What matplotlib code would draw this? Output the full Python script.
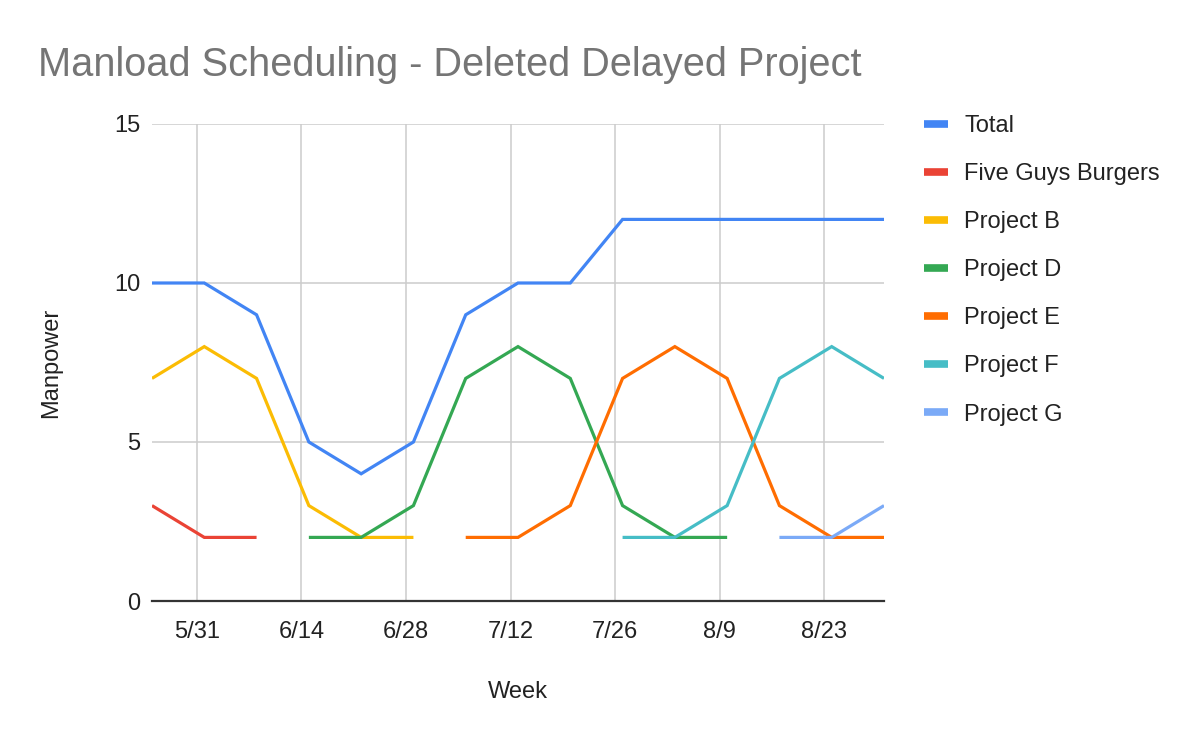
import numpy as np
import matplotlib
matplotlib.use("Agg")
import matplotlib.pyplot as plt
import matplotlib.dates as mdates
from matplotlib.lines import Line2D
import datetime as dt

plt.rcParams['font.family'] = ['Liberation Sans', 'DejaVu Sans']

weeks = ['2020-05-25', '2020-06-01', '2020-06-08', '2020-06-15', '2020-06-22',
         '2020-06-29', '2020-07-06', '2020-07-13', '2020-07-20', '2020-07-27',
         '2020-08-03', '2020-08-10', '2020-08-17', '2020-08-24', '2020-08-31']
nan = np.nan
total = [10, 10, 9, 5, 4, 5, 9, 10, 10, 12, 12, 12, 12, 12, 12]
five_guys = [3, 2, 2, nan, nan, nan, nan, nan, nan, nan, nan, nan, nan, nan, nan]
project_b = [7, 8, 7, 3, 2, 2, nan, nan, nan, nan, nan, nan, nan, nan, nan]
project_d = [nan, nan, nan, 2, 2, 3, 7, 8, 7, 3, 2, 2, nan, nan, nan]
project_e = [nan, nan, nan, nan, nan, nan, 2, 2, 3, 7, 8, 7, 3, 2, 2]
project_f = [nan, nan, nan, nan, nan, nan, nan, nan, nan, 2, 2, 3, 7, 8, 7]
project_g = [nan, nan, nan, nan, nan, nan, nan, nan, nan, nan, nan, nan, 2, 2, 3]

series_names = ['Total', 'Five Guys Burgers', 'Project B', 'Project D',
                'Project E', 'Project F', 'Project G']
series_values = [total, five_guys, project_b, project_d, project_e, project_f, project_g]
colors = ['#4285F4', '#EA4335', '#FBBC04', '#34A853', '#FF6D01', '#46BDC6', '#7BAAF7']

tick_dates = ['2020-05-31', '2020-06-14', '2020-06-28', '2020-07-12',
              '2020-07-26', '2020-08-09', '2020-08-23']
tick_labels = ['5/31', '6/14', '6/28', '7/12', '7/26', '8/9', '8/23']
y_ticks = [0, 5, 10, 15]

title = 'Manload Scheduling - Deleted Delayed Project'

x = [dt.datetime.strptime(w, '%Y-%m-%d') for w in weeks]
xt = [dt.datetime.strptime(w, '%Y-%m-%d') for w in tick_dates]

fig = plt.figure(figsize=(12, 7.42), dpi=100)
ax = fig.add_axes([152/1200, 1-601/742, (884-152)/1200, (601-124)/742])

for vals, c, name in zip(series_values, colors, series_names):
    ax.plot(x, np.array(vals, dtype=float), color=c, lw=2.3, label=name,
            solid_capstyle='butt', solid_joinstyle='miter', zorder=3)

ax.set_xlim(x[0], x[-1])
ax.set_ylim(0, 15)
ax.set_yticks(y_ticks)
ax.set_xticks(xt)
ax.set_xticklabels(tick_labels)
ax.tick_params(axis='both', length=0, labelsize=17, colors='#222222')
ax.tick_params(axis='x', pad=14.5)
ax.tick_params(axis='y', pad=8.5)
ax.grid(True, color='#cccccc', lw=1.1, zorder=0)
for s in ['top', 'right', 'left']:
    ax.spines[s].set_visible(False)
ax.spines['bottom'].set_color('#333333')
ax.spines['bottom'].set_linewidth(1.6)
ax.spines['bottom'].set_zorder(4)

ax.set_xlabel('Week', fontsize=17, color='#222222')
ax.xaxis.set_label_coords(0.5, -(692-601)/(601-124), transform=ax.transAxes)
ax.set_ylabel('Manpower', fontsize=17, color='#222222')
ax.yaxis.set_label_coords(-(152-51)/(884-152), 0.5, transform=ax.transAxes)
ax.xaxis.label.set_va('center')
ax.yaxis.label.set_va('center')

fig.text(38/1200, 1-65/742, title, fontsize=28.6, color='#757575', va='center', ha='left')

handles = [Line2D([0], [0], color=c, lw=5.5, solid_capstyle='butt') for c in colors]
leg = fig.legend(handles, series_names, loc='upper left',
                 bbox_to_anchor=(924/1200, 1-115/742), frameon=False,
                 fontsize=17, handlelength=1.0, handletextpad=0.7,
                 labelspacing=1.105, borderpad=0, borderaxespad=0)
for t in leg.get_texts():
    t.set_color('#222222')

fig.savefig('out.png', dpi=100)
